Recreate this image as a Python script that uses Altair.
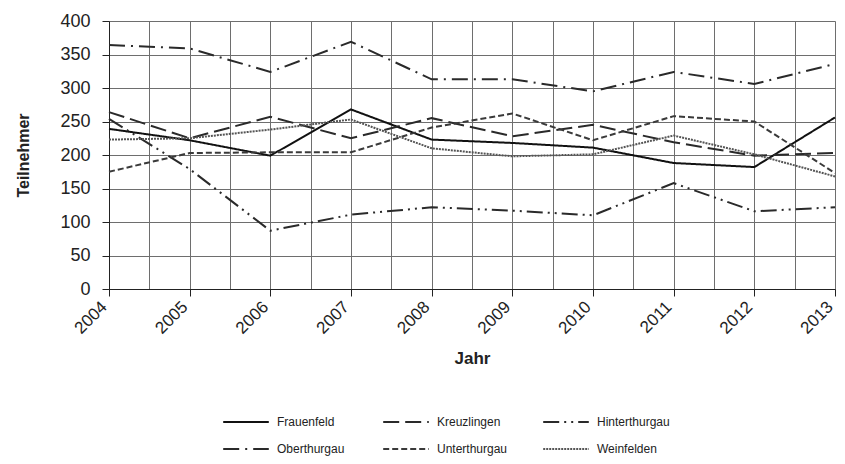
import altair as alt
import pandas as pd

years = [2004, 2005, 2006, 2007, 2008, 2009, 2010, 2011, 2012, 2013]
regions = ["Frauenfeld", "Kreuzlingen", "Hinterthurgau",
           "Oberthurgau", "Unterthurgau", "Weinfelden"]
frauenfeld = [239, 222, 199, 268, 223, 218, 211, 188, 182, 256]
kreuzlingen = [264, 225, 257, 225, 255, 228, 245, 219, 199, 203]
hinterthurgau = [254, 179, 87, 111, 122, 117, 110, 158, 116, 122]
oberthurgau = [364, 359, 324, 369, 313, 313, 295, 324, 306, 336]
unterthurgau = [175, 203, 204, 204, 241, 262, 222, 258, 250, 173]
weinfelden = [223, 225, 238, 253, 210, 198, 201, 229, 201, 168]

y_ticks = [0, 50, 100, 150, 200, 250, 300, 350, 400]
x_grid = [2004, 2004.5, 2005, 2005.5, 2006, 2006.5, 2007, 2007.5, 2008, 2008.5,
          2009, 2009.5, 2010, 2010.5, 2011, 2011.5, 2012, 2012.5, 2013]

series = [frauenfeld, kreuzlingen, hinterthurgau, oberthurgau, unterthurgau, weinfelden]
rows = []
for name, vals in zip(regions, series):
    for yr, v in zip(years, vals):
        rows.append({"Jahr": yr, "Teilnehmer": v, "Region": name})
df = pd.DataFrame(rows)

dash_range = [[1, 0], [16, 6], [16, 5, 2, 5, 2, 5], [16, 6, 2, 6], [6, 3], [2, 1]]
color_range = ["#111111", "#2a2a2a", "#2a2a2a", "#2a2a2a", "#3a3a3a", "#555555"]

FONT = "Liberation Sans"
GRID = "#6e6e6e"

legend = alt.Legend(
    title=None, orient="none", legendX=130, legendY=394, columns=3,
    direction="horizontal",
    symbolType="M-3.8,0H3.8", symbolSize=144, symbolStrokeWidth=2,
    labelFontSize=12, labelFont=FONT, labelColor="#222222",
    gridAlign="all", columnPadding=29, rowPadding=14, labelOffset=24,
)

chart = alt.Chart(df).mark_line(strokeWidth=2).encode(
    x=alt.X("Jahr:Q",
            scale=alt.Scale(domain=[2004, 2013], nice=False, zero=False),
            axis=alt.Axis(
                values=x_grid, grid=True, gridColor=GRID, gridWidth=1,
                labelExpr="datum.value % 1 === 0 ? datum.value : ''",
                labelAngle=-45, labelAlign="right", labelBaseline="middle",
                labelOverlap=False, labelFlush=False, labelPadding=8, labelOffset=-5,
                labelFontSize=17, labelFont=FONT, labelColor="#222222",
                tickSize=7, tickColor="#222222",
                tickOpacity=alt.condition("datum.value % 1 === 0", alt.value(1), alt.value(0)),
                domainColor="#222222",
                title="Jahr", titleFont=FONT, titleFontSize=17, titleFontWeight="bold",
                titleColor="#222222", titlePadding=14,
            )),
    y=alt.Y("Teilnehmer:Q",
            scale=alt.Scale(domain=[0, 400], nice=False),
            axis=alt.Axis(
                values=y_ticks, grid=True, gridColor=GRID, gridWidth=1,
                labelFontSize=18, labelFont=FONT, labelColor="#222222",
                labelPadding=12, tickSize=7, tickColor="#222222",
                domainColor="#222222",
                title="Teilnehmer", titleFont=FONT, titleFontSize=16,
                titleFontWeight="bold", titleColor="#222222", titlePadding=28,
            )),
    color=alt.Color("Region:N", sort=regions,
                    scale=alt.Scale(domain=regions, range=color_range), legend=legend),
    strokeDash=alt.StrokeDash("Region:N", sort=regions,
                              scale=alt.Scale(domain=regions, range=dash_range), legend=legend),
).properties(
    width=726, height=268,
    autosize=alt.AutoSizeParams(type="none"),
    padding={"left": 101, "top": 13, "right": 2, "bottom": 167},
).configure_view(stroke=GRID, strokeWidth=1).configure(background="white")

chart.save("out.html", embed_options={"renderer": "svg", "actions": False})
